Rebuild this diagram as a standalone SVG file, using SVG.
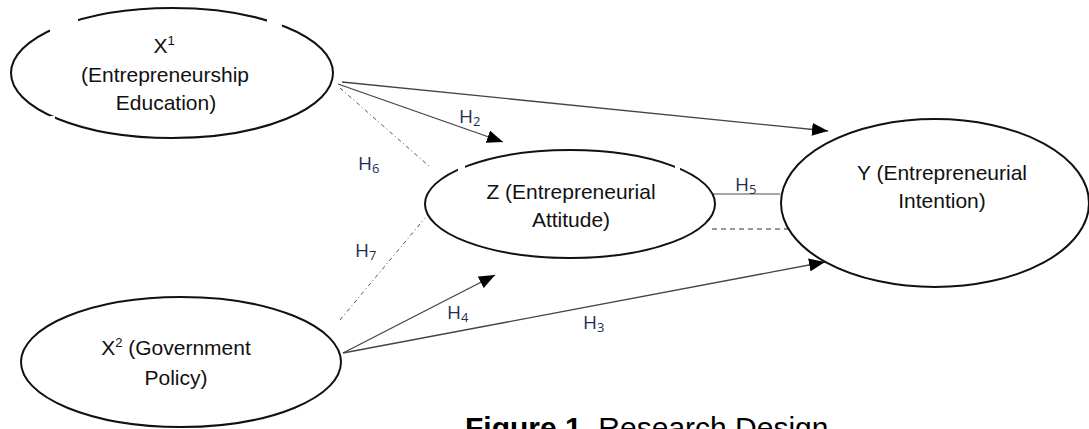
<svg xmlns="http://www.w3.org/2000/svg" width="1089" height="429" viewBox="0 0 1089 429">
<style>
.node{fill:#fff;stroke:#111;stroke-width:2}
.t{font-family:"Liberation Sans",Arial,sans-serif;font-size:21px;fill:#111;text-anchor:middle}
.sup{font-size:13px}
.arr{stroke:#444;stroke-width:1.3;fill:none;marker-end:url(#ah)}
.dd{stroke:#555;stroke-width:1;fill:none;stroke-dasharray:4 3 1 3}
.h{font-family:"Open Sans","Liberation Sans",sans-serif;font-size:19px;fill:#1c2f55}
.sub{font-size:13px}
.gap{fill:#fff}
.cap{font-family:"Liberation Sans",Arial,sans-serif;font-size:30px;fill:#000}
</style>
<defs>
<marker id="ah" markerUnits="userSpaceOnUse" markerWidth="17" markerHeight="13" refX="16" refY="6.5" orient="auto">
<path d="M0,0 L16,6.5 L0,13 z" fill="#000"/>
</marker>
</defs>
<rect width="1089" height="429" fill="#fff"/>
<g id="connectors">
<line class="arr" x1="342" y1="82" x2="828" y2="131"/>
<line class="arr" x1="338" y1="84" x2="503" y2="142"/>
<line class="dd" x1="340" y1="88" x2="430" y2="167"/>
<line class="dd" x1="340" y1="320" x2="425" y2="218"/>
<line class="arr" x1="343" y1="353" x2="495" y2="275"/>
<line class="arr" x1="343" y1="353" x2="825" y2="262"/>
<line x1="713" y1="194" x2="780" y2="194" stroke="#888" stroke-width="1.6"/>
<line x1="712" y1="229" x2="788" y2="229" stroke="#777" stroke-width="1.3" stroke-dasharray="5 4"/>
<text class="h" x="459" y="123">H<tspan class="sub" dy="3">2</tspan></text>
<text class="h" x="358" y="170">H<tspan class="sub" dy="3">6</tspan></text>
<text class="h" x="355" y="257">H<tspan class="sub" dy="3">7</tspan></text>
<text class="h" x="447" y="319">H<tspan class="sub" dy="3">4</tspan></text>
<text class="h" x="583" y="329">H<tspan class="sub" dy="3">3</tspan></text>
<text class="h" x="735" y="191">H<tspan class="sub" dy="3">5</tspan></text>
</g>
<g id="x1">
<ellipse class="node" cx="172" cy="73" rx="161" ry="65"/>
<path class="gap" d="M50,14 L78,14 L78,36 L50,36 z"/>
<rect class="gap" x="267" y="14" width="15" height="16"/>
<rect class="gap" x="50" y="116" width="5" height="10"/>
<text class="t" x="164" y="53">X<tspan class="sup" dy="-8">1</tspan></text>
<text class="t" x="165" y="82">(Entrepreneurship</text>
<text class="t" x="166" y="110">Education)</text>
</g>
<g id="z">
<ellipse class="node" cx="570" cy="204" rx="145" ry="54"/>
<rect class="gap" x="458" y="163" width="7" height="10"/>
<rect class="gap" x="675" y="163" width="5" height="10"/>
<rect class="gap" x="461" y="245" width="3" height="8"/>
<rect class="gap" x="678" y="245" width="3" height="8"/>
<text class="t" x="571" y="199">Z (Entrepreneurial</text>
<text class="t" x="571" y="227">Attitude)</text>
</g>
<g id="y">
<ellipse class="node" cx="935" cy="203" rx="154" ry="84"/>
<text class="t" x="942" y="180">Y (Entrepreneurial</text>
<text class="t" x="942" y="208">Intention)</text>
</g>
<g id="x2">
<ellipse class="node" cx="181" cy="362" rx="160" ry="65"/>
<text class="t" x="176" y="355">X<tspan class="sup" dy="-8">2</tspan><tspan dy="8"> (Government</tspan></text>
<text class="t" x="176" y="385">Policy)</text>
</g>
<g id="caption">
<text class="cap" x="465" y="438"><tspan font-weight="bold">Figure 1</tspan>. Research Design</text>
</g>
</svg>
